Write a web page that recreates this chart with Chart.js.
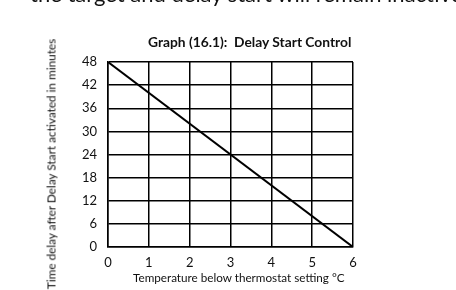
<!DOCTYPE html>
<html>
<head>
<meta charset="utf-8">
<script src="https://cdn.jsdelivr.net/npm/chart.js@4"></script>
<style>
  body { margin: 0; background: #fff; }
  #wrap { position: relative; width: 456px; height: 290px; overflow: hidden; font-family: Lato, "Open Sans", sans-serif; color: #111; }
  #cut { position: absolute; left: 30px; top: -20px; font-size: 22px; white-space: nowrap; }
  #title { position: absolute; left: 148px; top: 33px; font-size: 13.8px; font-weight: bold; white-space: nowrap; }
  #xtitle { position: absolute; left: 133px; top: 270px; font-size: 11.7px; white-space: nowrap; }
  #ytitle { position: absolute; left: 51px; top: 164px; font-size: 11.8px; white-space: nowrap; transform: translate(-50%, -50%) rotate(-90deg); }
</style>
</head>
<body>
<div id="wrap">
  <canvas id="myChart" width="456" height="290"></canvas>
  <div id="cut">the target and delay start will remain inactive until</div>
  <div id="title">Graph (16.1):&nbsp; Delay Start Control</div>
  <div id="xtitle">Temperature below thermostat setting °C</div>
  <div id="ytitle">Time delay after Delay Start activated in minutes</div>
</div>
<script>
// data
const temperaturas = [0, 6];
const atrasos = [48, 0];
const xTicks = [0, 1, 2, 3, 4, 5, 6];
const yTicks = [0, 6, 12, 18, 24, 30, 36, 42, 48];

let pontos = [];
temperaturas.forEach((t, i) => {
    pontos.push({x: t, y: atrasos[i]});
});

new Chart("myChart", {
    type: "line",
    data: {
        datasets: [{
            data: pontos,
            borderColor: "#000",
            borderWidth: 2,
            pointRadius: 0,
            fill: false
        }]
    },
    options: {
        responsive: false,
        animation: false,
        layout: {padding: {left: 0, right: 103, top: 62, bottom: 0}},
        plugins: {
            legend: {display: false},
            title: {display: false},
            tooltip: {enabled: false}
        },
        scales: {
            x: {
                type: "linear",
                min: 0,
                max: 6,
                afterBuildTicks: s => { s.ticks = xTicks.map(v => ({value: v})); },
                afterFit: s => { s.height = 43; },
                grid: {color: "#000", lineWidth: 1.5, drawTicks: false},
                border: {color: "#000", width: 1.5},
                ticks: {color: "#111", padding: 8, font: {family: "Lato", size: 13}}
            },
            y: {
                type: "linear",
                min: 0,
                max: 48,
                afterBuildTicks: s => { s.ticks = yTicks.map(v => ({value: v})); },
                afterFit: s => { s.width = 108; },
                grid: {color: "#000", lineWidth: 1.5, drawTicks: false},
                border: {color: "#000", width: 1.5},
                ticks: {color: "#111", padding: 11, font: {family: "Lato", size: 13}}
            }
        }
    }
});
</script>
</body>
</html>
